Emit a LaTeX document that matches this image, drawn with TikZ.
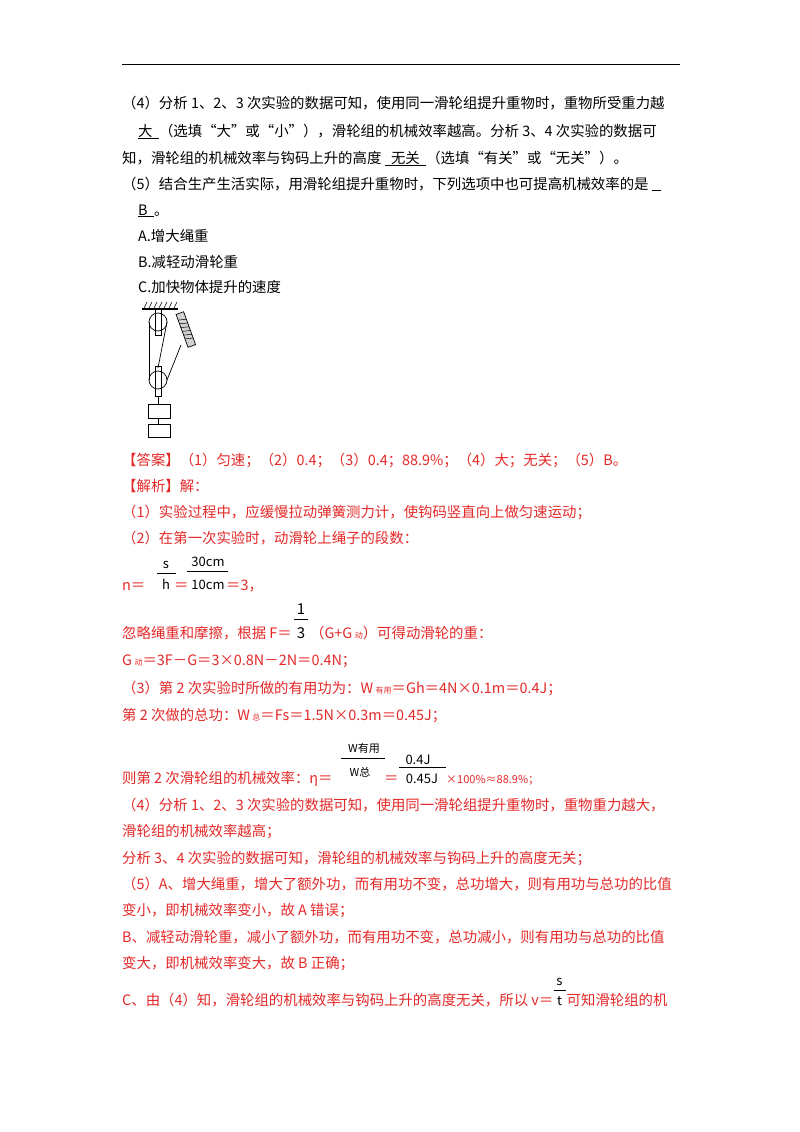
\documentclass[tikz,border=0pt]{standalone}
\usepackage{fontspec}
\usetikzlibrary{calc}
\setmainfont{Noto Sans CJK SC}
\begin{document}
\begin{tikzpicture}[x=1pt,y=-1pt,
  txt/.style={anchor=base west,inner sep=0pt,font=\fontsize{14.4}{17}\selectfont},
  red/.style={text=rd},
  frac/.style={anchor=base,inner sep=0pt,font=\fontsize{13}{15}\selectfont},
  part/.style={draw,line width=0.7pt}]
\definecolor{rd}{RGB}{228,40,40}
\useasboundingbox (0,0) rectangle (800,1132);
\draw[line width=0.8pt] (122,64) -- (680,64);
% questions
\node[txt] (l1) at (122,108) {（4）分析 1、2、3 次实验的数据可知，使用同一滑轮组提升重物时，重物所受重力越};
\node[txt] (l2) at (138,136) {\underline{大\ \ }（选填“大”或“小”），滑轮组的机械效率越高。分析 3、4 次实验的数据可};
\node[txt] (l3) at (122,163) {知，滑轮组的机械效率与钩码上升的高度 \underline{\ \ 无关\ \ }（选填“有关”或“无关”）。};
\node[txt] (l4) at (122,189) {（5）结合生产生活实际，用滑轮组提升重物时，下列选项中也可提高机械效率的是 \underline{\ \ \ }};
\node[txt] (l5) at (138,215) {\underline{B\ \ }。};
\node[txt] (l6) at (138,241) {A.增大绳重};
\node[txt] (l7) at (138,267) {B.减轻动滑轮重};
\node[txt] (l8) at (138,292) {C.加快物体提升的速度};
% pulley figure
\draw[line width=1.5pt] (142,309) -- (178,309);
\foreach \i in {0,...,6} \draw[line width=0.5pt] (144+5*\i,308) -- (147+5*\i,302);
\draw[part] (158,322) circle (9);
\draw[part] (155,309) rectangle (161,335);
\draw[part] (158,380) circle (9);
\draw[part] (155,366) rectangle (161,396);
\draw[part] (149,322) -- (149,380);
\draw[part] (167,322) -- (158,368);
\draw[part] (167,380) -- (181,345);
\draw[part,fill=gray!35,rotate around={20:(186,330)}] (182,312) rectangle (190,347);
\foreach \k in {0,...,5} \draw[line width=0.5pt,rotate around={20:(186,330)}] (182,318+4*\k) -- (190,320+4*\k);
\draw[part] (158,396) -- (158,404);
\draw[part] (148,404) rectangle (170,418);
\draw[part] (158,418) -- (158,424);
\draw[part] (148,424) rectangle (170,437);
% answers
\node[txt,red] (a1) at (122,465) {【答案】（1）匀速；（2）0.4；（3）0.4；88.9\%；（4）大；无关；（5）B。};
\node[txt,red] (a2) at (122,491) {【解析】解：};
\node[txt,red] (a3) at (122,517) {（1）实验过程中，应缓慢拉动弹簧测力计，使钩码竖直向上做匀速运动；};
\node[txt,red] (a4) at (122,543) {（2）在第一次实验时，动滑轮上绳子的段数：};
\node[txt,red] (a5) at (122,590) {n＝};
\node[frac] (f1) at (166,568) {s};
\node[frac] (f3) at (166,589) {h};
\draw (157,573) -- (176,573);
\node[txt,red] (a5b) at (174,590) {＝};
\node[frac] (f2) at (208,566) {30cm};
\node[frac] (f4) at (208,589) {10cm};
\draw (187,571) -- (228,571);
\node[txt,red] (a5c) at (226,590) {＝3，};
\node[txt,red] (a6) at (122,638) {忽略绳重和摩擦，根据 F＝};
\node[frac,font=\fontsize{15}{17}\selectfont] (f5) at ($(a6.base east)+(9,-24)$) {1};
\draw ($(a6.base east)+(2,-19)$) -- ($(a6.base east)+(16,-19)$);
\node[frac,font=\fontsize{15}{17}\selectfont] (f6) at ($(a6.base east)+(9,0)$) {3};
\node[txt,red] (a6b) at ($(a6.base east)+(18,0)$) {（G+G\,{\fontsize{8}{9}\selectfont 动}）可得动滑轮的重：};
\node[txt,red] (a7) at (122,665) {G\,{\fontsize{8}{9}\selectfont 动}＝3F－G＝3×0.8N－2N＝0.4N；};
\node[txt,red] (a8) at (122,693) {（3）第 2 次实验时所做的有用功为：W\,{\fontsize{8}{9}\selectfont 有用}＝Gh＝4N×0.1m＝0.4J；};
\node[txt,red] (a9) at (122,720) {第 2 次做的总功：W\,{\fontsize{8}{9}\selectfont 总}＝Fs＝1.5N×0.3m＝0.45J；};
\node[txt,red] (a10) at (122,783) {则第 2 次滑轮组的机械效率：η＝};
\node[frac,font=\fontsize{11}{13}\selectfont] (f7) at (364,752) {W有用};
\draw (341,758) -- (385,758);
\node[frac,font=\fontsize{11}{13}\selectfont] (f8) at (360,776) {W总};
\node[txt,red] (a10b) at (384,783) {＝};
\node[frac] (f9) at (418,764) {0.4J};
\draw (399,767) -- (446,767);
\node[frac] (f10) at (422,783) {0.45J};
\node[txt,red,font=\fontsize{11}{13}\selectfont] (a10c) at (446,783) {×100\%≈88.9\%；};
\node[txt,red] (a11) at (122,810) {（4）分析 1、2、3 次实验的数据可知，使用同一滑轮组提升重物时，重物重力越大，};
\node[txt,red] (a12) at (122,836) {滑轮组的机械效率越高；};
\node[txt,red] (a13) at (122,863) {分析 3、4 次实验的数据可知，滑轮组的机械效率与钩码上升的高度无关；};
\node[txt,red] (a14) at (122,889) {（5）A、增大绳重，增大了额外功，而有用功不变，总功增大，则有用功与总功的比值};
\node[txt,red] (a15) at (122,915) {变小，即机械效率变小，故 A 错误；};
\node[txt,red] (a16) at (122,942) {B、减轻动滑轮重，减小了额外功，而有用功不变，总功减小，则有用功与总功的比值};
\node[txt,red] (a17) at (122,968) {变大，即机械效率变大，故 B 正确；};
\node[txt,red] (a18) at (122,1005) {C、由（4）知，滑轮组的机械效率与钩码上升的高度无关，所以 v＝};
\node[frac] (f11) at ($(a18.base east)+(6,-20)$) {s};
\draw ($(a18.base east)+(0,-15)$) -- ($(a18.base east)+(12,-15)$);
\node[frac] (f12) at ($(a18.base east)+(6,0)$) {t};
\node[txt,red] (a18b) at ($(a18.base east)+(13,0)$) {可知滑轮组的机};
\end{tikzpicture}
\end{document}
